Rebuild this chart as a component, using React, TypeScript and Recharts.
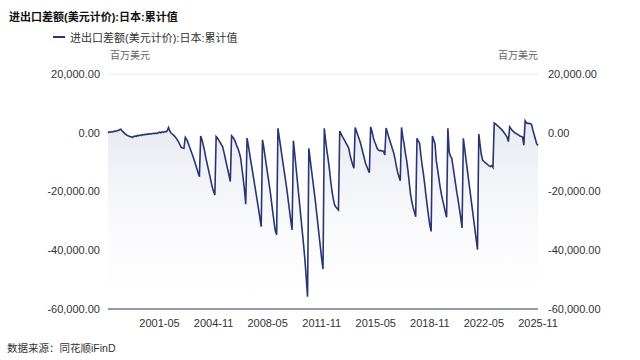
import { AreaChart, Area, XAxis, YAxis, CartesianGrid } from "recharts";

// monthly cumulative trade balance, million USD, 1998-01 .. 2025-11
const values = [
  0, 300, 200, 400, 300, 600, 500, 700, 800, 1000, 1200, 600, // 1998
  200, -300, -600, -900, -1100, -1300, -1400, -1600, -1300, -1100, -1200, -900, // 1999
  -1000, -800, -900, -600, -700, -500, -600, -400, -500, -300, -400, -200, // 2000
  -300, -100, -300, 0, 200, 0, 300, 100, 400, 300, 700, 1800, // 2001
  600, -100, -500, -800, -1300, -1900, -2500, -3300, -4200, -5000, -5200, -5300, // 2002
  -1600, -2200, -3200, -4400, -5600, -6800, -8100, -9400, -10800, -12200, -13600, -15000, // 2003
  -1100, -2500, -4200, -6200, -8500, -10500, -12500, -14500, -16500, -18500, -20000, -21200, // 2004
  -1300, -1800, -2500, -3200, -4000, -4700, -6500, -8500, -10500, -12500, -14500, -16600, // 2005
  -1000, -1500, -2200, -3200, -4500, -5400, -6800, -8500, -12000, -15500, -19500, -24300, // 2006
  -1800, -4300, -7000, -9800, -12500, -15200, -17900, -20600, -23400, -26200, -29100, -32000, // 2007
  -2400, -5000, -8000, -11000, -14000, -17000, -20000, -23500, -27000, -30500, -33500, -34700, // 2008
  1500, -1500, -4500, -7500, -10500, -13500, -16500, -19500, -23000, -26500, -30000, -33100, // 2009
  -2700, -7000, -11500, -16000, -20500, -25000, -29500, -34000, -38500, -43500, -49500, -55800, // 2010
  -5300, -9000, -12500, -16000, -19500, -23000, -27000, -31000, -35000, -39000, -43000, -46400, // 2011
  1500, -2500, -6000, -9000, -12500, -16500, -20000, -22500, -24500, -25300, -25800, -26300, // 2012
  600, -300, -1200, -2000, -2800, -3600, -4400, -5300, -7500, -9300, -10800, -12100, // 2013
  1800, 500, -800, -2000, -3300, -5000, -6800, -8500, -10400, -11500, -12600, -13600, // 2014
  2000, 500, -1500, -3000, -4000, -5300, -5800, -6100, -6100, -6200, -6300, -7600, // 2015
  1600, 200, -1400, -2800, -4200, -5600, -7000, -9000, -11500, -13500, -15000, -16300, // 2016
  1800, -1500, -3800, -7000, -9500, -13000, -17000, -21000, -23500, -25500, -27000, -28600, // 2017
  -1900, -2800, -3600, -7500, -11000, -14000, -17500, -21500, -25000, -28500, -31500, -33600, // 2018
  -1100, -2500, -3800, -9500, -12500, -15500, -18500, -21000, -23000, -25000, -27000, -28800, // 2019
  1500, -6500, -8000, -8600, -11500, -14500, -17500, -20500, -23000, -26000, -29000, -32400, // 2020
  -1900, -5300, -8800, -12200, -15700, -19100, -22600, -26000, -29500, -32900, -36400, -39800, // 2021
  -400, -4000, -7500, -9300, -9800, -10200, -10500, -10900, -11300, -11500, -11200, -11800, // 2022
  3300, 3000, 2600, 2300, 1800, 1400, 1000, 400, -200, -800, -1500, -3000, // 2023
  2000, 1400, 800, 350, 0, -300, -500, -800, -1100, -1300, -1500, -4200, // 2024
  4100, 3400, 3200, 3200, 3100, 2800, 900, -600, -2200, -3800, -4300, // 2025
];

const startYear = 1998;
const months = values.map((_, i) => {
  const y = startYear + Math.floor(i / 12);
  const m = (i % 12) + 1;
  return `${y}-${m < 10 ? "0" + m : m}`;
});

const xTicks = ["2001-05", "2004-11", "2008-05", "2011-11", "2015-05", "2018-11", "2022-05", "2025-11"];
const yTicks = [-60000, -40000, -20000, 0, 20000];

const data = months.map((date, i) => ({ date, value: values[i] }));

const seriesName = "进出口差额(美元计价):日本:累计值";
const navy = "#273673";
const fmt = (v: number) =>
  v.toLocaleString("en-US", { minimumFractionDigits: 2, maximumFractionDigits: 2 });

export default function App() {
  const tick = { fill: "#333", fontSize: 11 };
  return (
    <div
      style={{
        position: "absolute",
        left: 0,
        top: 0,
        width: 640,
        height: 360,
        background: "#fff",
        fontFamily: "'Liberation Sans', Arial, 'Noto Sans CJK SC', sans-serif",
        color: "#333",
      }}
    >
      <div style={{ position: "absolute", left: 9, top: 8, fontSize: 11, fontWeight: "bold", color: "#111" }}>
        {seriesName}
      </div>
      <div style={{ position: "absolute", left: 53, top: 29, display: "flex", alignItems: "center", fontSize: 11 }}>
        <span style={{ width: 12, height: 2, background: navy, marginRight: 5 }} />
        <span>{seriesName}</span>
      </div>
      <div style={{ position: "absolute", left: 110, top: 47, fontSize: 10, color: "#666" }}>百万美元</div>
      <div style={{ position: "absolute", left: 498, top: 47, fontSize: 10, color: "#666" }}>百万美元</div>

      <AreaChart
        width={640}
        height={360}
        data={data}
        margin={{ top: 74, right: 2, bottom: 21, left: 0 }}
      >
        <defs>
          <linearGradient id="fillGrad" x1="0" y1="0" x2="0" y2="1">
            <stop offset="0%" stopColor="#d6d9e8" stopOpacity={0.95} />
            <stop offset="100%" stopColor="#ffffff" stopOpacity={0.2} />
          </linearGradient>
        </defs>
        <CartesianGrid vertical={false} stroke="#ececec" />
        <XAxis
          dataKey="date"
          ticks={xTicks}
          interval={0}
          tickLine={false}
          tickSize={6}
          tickMargin={4}
          height={30}
          tick={tick}
          axisLine={{ stroke: "#8f9aad", strokeWidth: 2 }}
        />
        <YAxis
          yAxisId="left"
          domain={[-60000, 20000]}
          ticks={yTicks}
          width={108}
          axisLine={false}
          tickLine={false}
          tick={tick}
          tickFormatter={fmt}
        />
        <YAxis
          yAxisId="right"
          orientation="right"
          domain={[-60000, 20000]}
          ticks={yTicks}
          width={100}
          axisLine={false}
          tickLine={false}
          tickMargin={4}
          tick={tick}
          tickFormatter={fmt}
          allowDataOverflow
        />
        <Area
          yAxisId="left"
          type="linear"
          dataKey="value"
          name={seriesName}
          stroke={navy}
          strokeWidth={1.6}
          fill="url(#fillGrad)"
          baseValue={-60000}
          dot={false}
          activeDot={false}
          isAnimationActive={false}
        />
      </AreaChart>

      <div style={{ position: "absolute", left: 7, top: 340, fontSize: 10.5, color: "#333" }}>
        数据来源：同花顺iFinD
      </div>
    </div>
  );
}
